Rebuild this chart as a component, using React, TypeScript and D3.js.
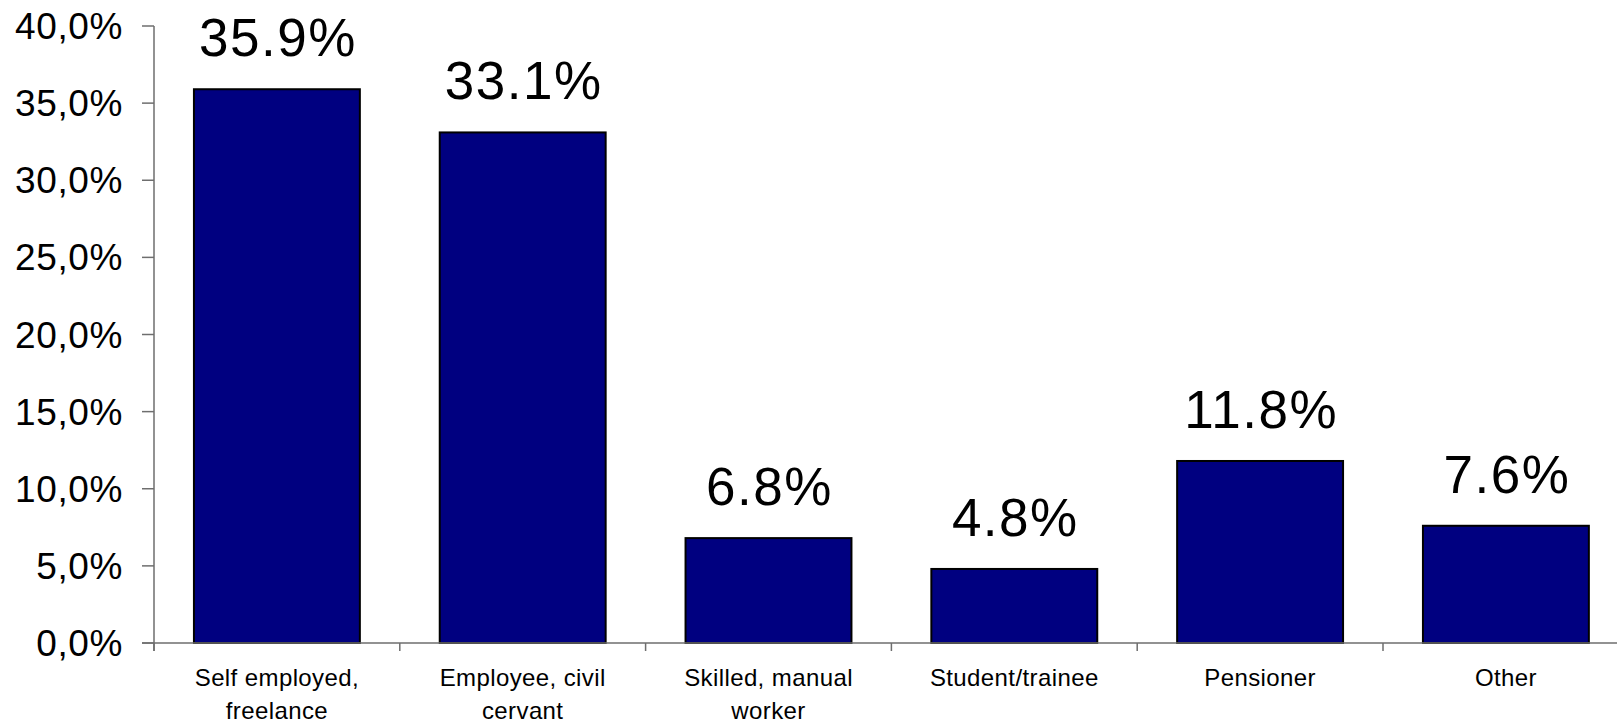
import React from "react";
import * as d3 from "d3";

const categories: string[][] = [
  ["Self employed,", "freelance"],
  ["Employee, civil", "cervant"],
  ["Skilled, manual", "worker"],
  ["Student/trainee"],
  ["Pensioner"],
  ["Other"],
];
const values: number[] = [35.9, 33.1, 6.8, 4.8, 11.8, 7.6];
const valueLabels: string[] = ["35.9%", "33.1%", "6.8%", "4.8%", "11.8%", "7.6%"];
const yTicks: number[] = [0, 5, 10, 15, 20, 25, 30, 35, 40];
const yTickLabels: string[] = ["0,0%", "5,0%", "10,0%", "15,0%", "20,0%", "25,0%", "30,0%", "35,0%", "40,0%"];

const W = 1617;
const H = 721;
const FONT = "'Liberation Sans', Arial, Helvetica, sans-serif";

export default function App() {
  const x0 = 154;
  const step = 245.8;
  const x = d3
    .scaleBand<number>()
    .domain(d3.range(categories.length))
    .range([x0, x0 + step * categories.length])
    .paddingInner(0.325)
    .paddingOuter(0.1625);
  const y = d3.scaleLinear().domain([0, 40]).range([643, 26]);

  const bw = x.bandwidth();
  const boundaries = d3.range(categories.length + 1).map((i) => x0 + i * step);

  return (
    <svg
      width={W}
      height={H}
      style={{ position: "absolute", left: 0, top: 0, background: "#fff" }}
      fontFamily={FONT}
    >
      <rect x={0} y={0} width={W} height={H} fill="#fff" />
      {/* y axis */}
      <line x1={x0} x2={x0} y1={y(40)} y2={y(0) + 8} stroke="#6e6e6e" strokeWidth={1.5} />
      {yTicks.map((t, i) => (
        <g key={t}>
          <line x1={x0 - 12} x2={x0} y1={y(t)} y2={y(t)} stroke="#6e6e6e" strokeWidth={1.5} />
          <text x={123} y={y(t) + 13} textAnchor="end" fontSize={37} letterSpacing={0.6} fill="#000">
            {yTickLabels[i]}
          </text>
        </g>
      ))}
      {/* bars */}
      {values.map((v, i) => (
        <rect
          key={i}
          x={x(i)!}
          y={y(v)}
          width={bw}
          height={y(0) - y(v)}
          fill="#000080"
          stroke="#000"
          strokeWidth={2}
        />
      ))}
      {/* x axis */}
      <line x1={x0 - 12} x2={W} y1={y(0)} y2={y(0)} stroke="#6e6e6e" strokeWidth={1.5} />
      {boundaries.map((b, i) => (
        <line key={i} x1={b} x2={b} y1={y(0)} y2={y(0) + 8} stroke="#6e6e6e" strokeWidth={1.5} />
      ))}
      {/* value labels */}
      {values.map((v, i) => (
        <text
          key={i}
          x={x(i)! + bw / 2 + 1}
          y={y(v) - 33}
          textAnchor="middle"
          fontSize={53}
          letterSpacing={1.5}
          fill="#000"
        >
          {valueLabels[i]}
        </text>
      ))}
      {/* category labels */}
      {categories.map((lines, i) => (
        <text
          key={i}
          x={x(i)! + bw / 2}
          textAnchor="middle"
          fontSize={24}
          letterSpacing={0.4}
          fill="#000"
        >
          {lines.map((l, j) => (
            <tspan key={j} x={x(i)! + bw / 2} y={686 + j * 33}>
              {l}
            </tspan>
          ))}
        </text>
      ))}
    </svg>
  );
}
